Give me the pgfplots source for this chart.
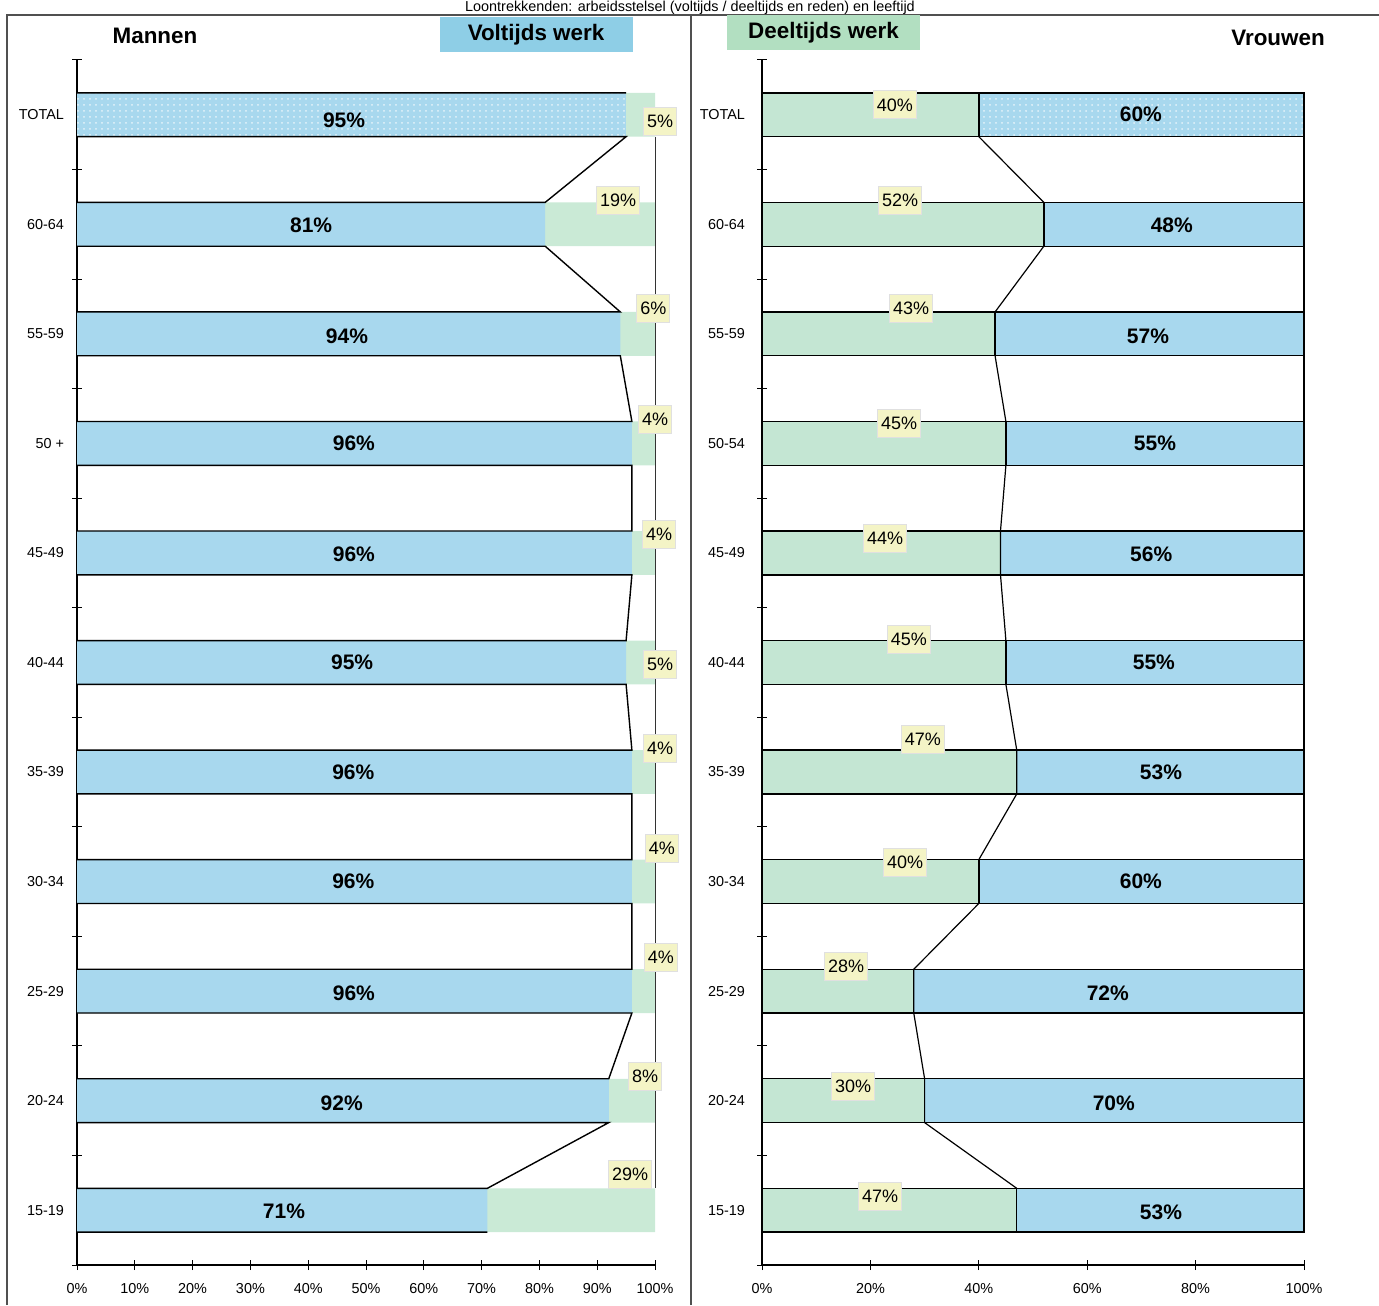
\documentclass[border=0pt]{standalone}
\usepackage{fontspec}
\setmainfont{Liberation Sans}
\setsansfont{Liberation Sans}
\usepackage{pgfplots}
\pgfplotsset{compat=1.18}
\usetikzlibrary{patterns}
\definecolor{vblue}{RGB}{168,216,238}
\definecolor{dgreen}{RGB}{196,230,211}
\definecolor{dgreenL}{RGB}{202,234,214}
\definecolor{labyellow}{RGB}{244,244,198}
\definecolor{hblue}{RGB}{142,206,230}
\definecolor{hgreen}{RGB}{178,223,193}
\definecolor{frame}{RGB}{80,80,80}

\pgfplotsset{
  panel/.style={
    scale only axis, height=602.5pt, anchor=south west,
    ymin=-0.5, ymax=10.5, xmin=0, xmax=100,
    axis lines=left, axis line style={-, black, line width=0.6pt},
    ytick={-0.5,0.5,...,10.5}, yticklabels={},
    extra y ticks={0,1,...,10},
    extra y tick style={major tick length=0pt},
    tick align=center, major tick length=5pt,
    tick style={black, line width=0.5pt},
    ticklabel style={font=\fontsize{7.2}{8}\selectfont},
    xticklabel style={yshift=-3pt},
    clip=false,
  },
  bluelab/.style={draw=none, mark=none, nodes near coords, point meta=explicit symbolic,
    every node near coord/.append style={anchor=center, text=black,
      font=\bfseries\fontsize{10.5}{12}\selectfont, inner sep=0pt}},
  yellab/.style={draw=none, mark=none, nodes near coords, point meta=explicit symbolic,
    every node near coord/.append style={anchor=center, text=black,
      font=\fontsize{9}{10}\selectfont, fill=labyellow, draw=black!12,
      inner xsep=1.8pt, inner ysep=0pt, minimum height=14pt}},
}

\begin{document}
\begin{tikzpicture}
\path[use as bounding box] (0,0) rectangle (689.5pt,652.5pt);

% frame and title
\draw[frame, line width=0.6pt] (3.5pt,0) -- (3.5pt,645pt) -- (689.5pt,645pt);
\draw[frame, line width=0.6pt] (345.5pt,0) -- (345.5pt,645pt);
\node[anchor=base, inner sep=0pt, font=\fontsize{7.2}{8}\selectfont] at (345pt,646.8pt)
  {Loontrekkenden: arbeidsstelsel (voltijds / deeltijds en reden) en leeftijd};

% headers
\node[font=\bfseries\fontsize{11.2}{13}\selectfont] at (77.5pt,634.5pt) {Mannen};
\node[fill=hblue, minimum width=96.5pt, minimum height=17.5pt, inner sep=0pt,
  font=\bfseries\fontsize{11.2}{13}\selectfont] at (268pt,635.25pt) {Voltijds werk};
\node[fill=hgreen, minimum width=96.5pt, minimum height=17.5pt, inner sep=0pt,
  font=\bfseries\fontsize{11.2}{13}\selectfont] at (411.75pt,636.25pt) {Deeltijds werk};
\node[font=\bfseries\fontsize{11.2}{13}\selectfont] at (639pt,633.5pt) {Vrouwen};

% ---------- Mannen ----------
\begin{axis}[panel, at={(38.5pt,20pt)}, width=289pt,
  xtick={0,10,...,100},
  xticklabels={0\%,10\%,20\%,30\%,40\%,50\%,60\%,70\%,80\%,90\%,100\%},
  extra y tick labels={15-19,20-24,25-29,30-34,35-39,40-44,45-49,50 +,55-59,60-64,TOTAL},
  extra y tick style={major tick length=0pt, yticklabel style={xshift=-3pt}},
]
% deeltijds (rest up to 100)
\addplot[xbar, bar width=0.4, bar shift=0pt, fill=dgreenL, draw=none] coordinates {
  (100,0) (100,1) (100,2) (100,3) (100,4) (100,5) (100,6) (100,7) (100,8) (100,9) (100,10)};
% voltijds
\addplot[xbar, bar width=0.4, bar shift=0pt, fill=vblue, draw=none] coordinates {
  (71,0) (92,1) (96,2) (96,3) (96,4) (95,5) (96,6) (96,7) (94,8) (81,9)};
\addplot[xbar, bar width=0.4, bar shift=0pt, fill=vblue, draw=none,
  postaction={pattern=dots, pattern color=white!70!vblue}] coordinates {(95,10)};
% bar edges and connectors
\addplot[black, line width=0.7pt, mark=none, unbounded coords=jump] coordinates {
  (0,10.2) (95,10.2) (nan,nan)
  (0,9.8) (95,9.8) (81,9.2) (0,9.2) (nan,nan)
  (0,8.8) (81,8.8) (94,8.2) (0,8.2) (nan,nan)
  (0,7.8) (94,7.8) (96,7.2) (0,7.2) (nan,nan)
  (0,6.8) (96,6.8) (96,6.2) (0,6.2) (nan,nan)
  (0,5.8) (96,5.8) (95,5.2) (0,5.2) (nan,nan)
  (0,4.8) (95,4.8) (96,4.2) (0,4.2) (nan,nan)
  (0,3.8) (96,3.8) (96,3.2) (0,3.2) (nan,nan)
  (0,2.8) (96,2.8) (96,2.2) (0,2.2) (nan,nan)
  (0,1.8) (96,1.8) (92,1.2) (0,1.2) (nan,nan)
  (0,0.8) (92,0.8) (71,0.2) (0,0.2) (nan,nan)
  (0,-0.2) (71,-0.2)};
\addplot[black!80, line width=0.5pt, mark=none] coordinates {(100,9.8) (100,0.2)};
% labels
\addplot[bluelab] coordinates {
  (46.2,9.95) [95\%] (40.5,8.99) [81\%] (46.7,7.98) [94\%] (47.9,7.0) [96\%]
  (47.9,5.99) [96\%] (47.6,5.0) [95\%] (47.8,4.0) [96\%] (47.8,3.0) [96\%]
  (47.9,1.98) [96\%] (45.8,0.98) [92\%] (35.8,-0.01) [71\%]};
\addplot[yellab] coordinates {
  (100.9,9.936) [5\%] (93.6,9.218) [19\%] (99.7,8.236) [6\%] (100.0,7.218) [4\%]
  (100.7,6.173) [4\%] (100.9,4.982) [5\%] (100.9,4.218) [4\%] (101.2,3.3) [4\%]
  (101.0,2.309) [4\%] (98.3,1.218) [8\%] (95.7,0.327) [29\%]};
\end{axis}

% ---------- Vrouwen ----------
\begin{axis}[panel, at={(381pt,20pt)}, width=271pt,
  xtick={0,20,...,100},
  xticklabels={0\%,20\%,40\%,60\%,80\%,100\%},
  extra y tick labels={15-19,20-24,25-29,30-34,35-39,40-44,45-49,50-54,55-59,60-64,TOTAL},
  extra y tick style={major tick length=0pt, yticklabel style={xshift=-5pt}},
]
% voltijds (rest up to 100)
\addplot[xbar, bar width=0.4, bar shift=0pt, fill=vblue, draw=black, line width=0.7pt] coordinates {
  (100,0) (100,1) (100,2) (100,3) (100,4) (100,5) (100,6) (100,7) (100,8) (100,9)};
\addplot[xbar, bar width=0.4, bar shift=0pt, fill=vblue, draw=black, line width=0.7pt,
  postaction={pattern=dots, pattern color=white!70!vblue}] coordinates {(100,10)};
% deeltijds
\addplot[xbar, bar width=0.4, bar shift=0pt, fill=dgreen, draw=black, line width=0.7pt] coordinates {
  (47,0) (30,1) (28,2) (40,3) (47,4) (45,5) (44,6) (45,7) (43,8) (52,9) (40,10)};
% connectors
\addplot[black, line width=0.6pt, mark=none] coordinates {
  (40,9.8) (52,9.2) (52,8.8) (43,8.2) (43,7.8) (45,7.2) (45,6.8) (44,6.2)
  (44,5.8) (45,5.2) (45,4.8) (47,4.2) (47,3.8) (40,3.2) (40,2.8) (28,2.2)
  (28,1.8) (30,1.2) (30,0.8) (47,0.2)};
\addplot[black, line width=0.6pt, mark=none] coordinates {(100,10.2) (100,-0.2)};
% labels
\addplot[bluelab] coordinates {
  (69.9,10.0) [60\%] (75.6,8.99) [48\%] (71.2,7.98) [57\%] (72.5,7.0) [55\%]
  (71.8,5.99) [56\%] (72.3,5.0) [55\%] (73.6,4.0) [53\%] (69.9,3.0) [60\%]
  (63.8,1.98) [72\%] (64.9,0.98) [70\%] (73.6,-0.02) [53\%]};
\addplot[yellab] coordinates {
  (24.5,10.09) [40\%] (25.5,9.218) [52\%] (27.5,8.236) [43\%] (25.3,7.18) [45\%]
  (22.7,6.136) [44\%] (27.1,5.209) [45\%] (29.7,4.3) [47\%] (26.4,3.173) [40\%]
  (15.5,2.227) [28\%] (16.8,1.127) [30\%] (21.8,0.127) [47\%]};
\end{axis}
\end{tikzpicture}
\end{document}
